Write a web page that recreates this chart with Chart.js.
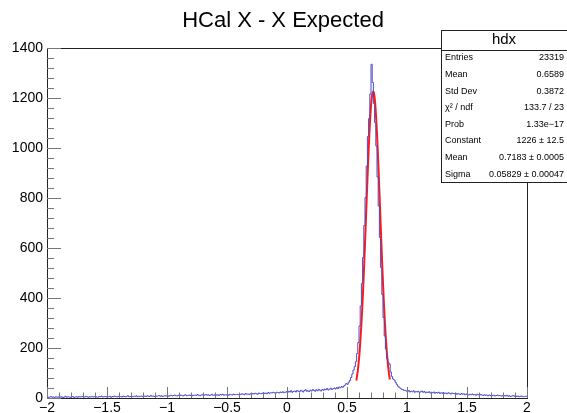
<!DOCTYPE html>
<html>
<head>
<meta charset="utf-8">
<script src="https://cdn.jsdelivr.net/npm/chart.js@4/dist/chart.umd.min.js"></script>
<style>
  html, body { margin: 0; padding: 0; background: #fff; }
  #wrap { width: 567px; height: 413px; }
</style>
</head>
<body>
<div id="wrap"><canvas id="hcalChart"></canvas></div>
<script>
// histogram hdx: 400 bins from -2 to 2
const xMin = -2;
const xMax = 2;
const binWidth = 0.01;
const binCounts = [
  3, 5, 2, 4, 6, 3, 4, 2, 5, 3,
  4, 6, 3, 5, 2, 4, 7, 3, 5, 4,
  3, 5, 6, 2, 4, 5, 3, 6, 4, 5,
  6, 3, 4, 7, 5, 3, 5, 4, 6, 4,
  5, 7, 4, 3, 6, 5, 8, 4, 5, 6,
  4, 6, 5, 7, 3, 6, 5, 8, 6, 4,
  7, 5, 6, 4, 8, 6, 5, 7, 9, 5,
  6, 8, 5, 7, 6, 9, 5, 7, 6, 8,
  7, 5, 8, 6, 9, 7, 6, 10, 7, 8,
  6, 9, 7, 8, 10, 7, 9, 6, 8, 9,
  8, 10, 7, 9, 11, 8, 10, 12, 9, 8,
  11, 9, 12, 10, 8, 11, 13, 9, 10, 12,
  10, 13, 9, 11, 12, 10, 14, 11, 9, 12,
  13, 10, 12, 14, 11, 13, 10, 12, 15, 11,
  12, 14, 11, 13, 10, 14, 12, 15, 11, 13,
  12, 14, 11, 15, 13, 12, 16, 13, 14, 15,
  13, 16, 14, 17, 15, 13, 18, 15, 16, 14,
  17, 15, 18, 16, 19, 17, 15, 20, 18, 17,
  19, 21, 18, 20, 17, 22, 19, 21, 20, 23,
  21, 19, 23, 22, 20, 24, 22, 25, 21, 23,
  25, 22, 27, 24, 29, 23, 26, 28, 24, 30,
  27, 25, 31, 28, 24, 30, 33, 27, 29, 26,
  31, 28, 34, 30, 27, 33, 29, 35, 31, 28,
  34, 31, 36, 33, 38, 32, 35, 39, 34, 37,
  40, 36, 42, 38, 44, 41, 46, 43, 48, 52,
  58, 55, 63, 70, 82, 96, 112, 126, 145, 178,
  222, 288, 368, 458, 562, 690, 802, 928, 1046, 1118,
  1216, 1335, 1262, 1178, 1102, 1008, 884, 768, 642, 522,
  414, 322, 248, 196, 158, 142, 136, 104, 86, 76,
  72, 63, 55, 47, 43, 39, 35, 34, 30, 31,
  28, 26, 30, 24, 27, 25, 29, 23, 26, 24,
  27, 22, 25, 28, 23, 26, 21, 24, 22, 25,
  20, 23, 21, 24, 19, 22, 20, 23, 18, 21,
  19, 22, 18, 20, 17, 21, 19, 16, 20, 18,
  17, 19, 15, 18, 16, 14, 18, 15, 17, 13,
  16, 14, 12, 15, 13, 16, 12, 14, 11, 15,
  13, 11, 14, 12, 10, 13, 11, 12, 9, 12,
  10, 12, 9, 11, 8, 10, 12, 9, 10, 8,
  9, 7, 10, 8, 11, 7, 9, 6, 8, 10,
  7, 9, 6, 8, 5, 7, 8, 5, 6, 7
];

// gaus fit curve
const fitX = [0.578, 0.59, 0.60, 0.61, 0.62, 0.63, 0.64, 0.65, 0.66, 0.67, 0.68, 0.69, 0.70, 0.71,
  0.72, 0.73, 0.74, 0.75, 0.76, 0.77, 0.78, 0.79, 0.80, 0.81, 0.82, 0.83, 0.84, 0.85, 0.857];
const fitY = [70, 109, 156, 218, 296, 389, 497, 617, 744, 870, 988, 1090, 1167, 1214,
  1226, 1202, 1144, 1057, 949, 828, 700, 576, 459, 356, 268, 196, 139, 96, 74];

const xTicks = [-2, -1.5, -1, -0.5, 0, 0.5, 1, 1.5, 2];
const yTicks = [0, 200, 400, 600, 800, 1000, 1200, 1400];

const statLabels = ["Entries", "Mean", "Std Dev", "\u03c7\u00b2 / ndf", "Prob", "Constant", "Mean", "Sigma"];
const statValues = ["23319", "0.6589", "0.3872", "133.7 / 23", "1.33e\u221217", "1226 \u00b1 12.5", "0.7183 \u00b1 0.0005", "0.05829 \u00b1 0.00047"];

const FONT = "'Liberation Sans', Arial, Helvetica, sans-serif";

// step outline: one point per low bin edge, plus closing point at xMax
const histPoints = binCounts.map((c, i) => ({ x: xMin + i * binWidth, y: c }));
histPoints.push({ x: xMax, y: binCounts[binCounts.length - 1] });
const fitPoints = fitX.map((x, i) => ({ x, y: fitY[i] }));

const minus = v => String(v).replace("-", "\u2212");

// ROOT style frame, inward ticks, title and stats box
const rootStyle = {
  id: "rootStyle",
  afterDatasetsDraw(chart) {
    const { ctx, chartArea: a, scales } = chart;
    const sx = scales.x, sy = scales.y;
    ctx.save();
    ctx.strokeStyle = "#222";
    ctx.lineWidth = 1;
    ctx.strokeRect(Math.round(a.left) + 0.5, Math.round(a.top) + 0.5,
      Math.round(a.right - a.left), Math.round(a.bottom - a.top));

    ctx.strokeStyle = "#777";
    ctx.beginPath();
    for (let i = 0; i < xTicks.length; i++) {
      const px = Math.round(sx.getPixelForValue(xTicks[i])) + 0.5;
      ctx.moveTo(px, a.bottom);
      ctx.lineTo(px, a.bottom - 11);
      if (i < xTicks.length - 1) {
        const step = (xTicks[i + 1] - xTicks[i]) / 5;
        for (let k = 1; k < 5; k++) {
          const mx = Math.round(sx.getPixelForValue(xTicks[i] + k * step)) + 0.5;
          ctx.moveTo(mx, a.bottom);
          ctx.lineTo(mx, a.bottom - 5.5);
        }
      }
    }
    for (let i = 0; i < yTicks.length; i++) {
      const py = Math.round(sy.getPixelForValue(yTicks[i])) + 0.5;
      ctx.moveTo(a.left, py);
      ctx.lineTo(a.left + 14, py);
      if (i < yTicks.length - 1) {
        const step = (yTicks[i + 1] - yTicks[i]) / 5;
        for (let k = 1; k < 5; k++) {
          const my = Math.round(sy.getPixelForValue(yTicks[i] + k * step)) + 0.5;
          ctx.moveTo(a.left, my);
          ctx.lineTo(a.left + 7, my);
        }
      }
    }
    ctx.stroke();
    ctx.restore();
  },
  afterDraw(chart) {
    const { ctx } = chart;
    ctx.save();
    // title
    ctx.fillStyle = "#000";
    ctx.font = "22px " + FONT;
    ctx.textAlign = "center";
    ctx.textBaseline = "middle";
    ctx.fillText("HCal X - X Expected", 283, 21);

    // stats box
    const bx = 441.5, by = 30.5, bw = 130, bh = 152;
    ctx.fillStyle = "#fff";
    ctx.fillRect(bx, by, bw, bh);
    ctx.strokeStyle = "#222";
    ctx.lineWidth = 1;
    ctx.strokeRect(bx, by, bw, bh);
    ctx.beginPath();
    ctx.moveTo(bx, 50.5);
    ctx.lineTo(bx + bw, 50.5);
    ctx.stroke();
    ctx.fillStyle = "#000";
    ctx.font = "15px " + FONT;
    ctx.fillText("hdx", 504, 40);
    ctx.font = "9px " + FONT;
    for (let i = 0; i < statLabels.length; i++) {
      const ty = 58 + i * 16.6;
      ctx.textAlign = "left";
      ctx.fillText(statLabels[i], 445, ty);
      ctx.textAlign = "right";
      ctx.fillText(statValues[i], 564, ty);
    }
    ctx.restore();
  }
};

const ctx = document.getElementById("hcalChart").getContext("2d");
new Chart(ctx, {
  type: "line",
  data: {
    datasets: [
      {
        label: "hdx",
        data: histPoints,
        stepped: "after",
        borderColor: "#4b4bc8",
        borderWidth: 1,
        pointRadius: 0,
        fill: false
      },
      {
        label: "gaus",
        data: fitPoints,
        borderColor: "#ff1a1a",
        borderWidth: 2,
        pointRadius: 0,
        tension: 0.3,
        fill: false
      }
    ]
  },
  options: {
    responsive: true,
    maintainAspectRatio: false,
    animation: false,
    events: [],
    layout: { padding: { top: 48, right: 40, left: 0, bottom: 0 } },
    plugins: {
      legend: { display: false },
      tooltip: { enabled: false },
      title: { display: false }
    },
    scales: {
      x: {
        type: "linear",
        min: xMin,
        max: xMax,
        afterBuildTicks: s => { s.ticks = xTicks.map(v => ({ value: v })); },
        afterFit: s => { s.height = 15; },
        grid: { display: false, drawTicks: false },
        border: { display: false },
        ticks: {
          padding: 2,
          maxRotation: 0,
          autoSkip: false,
          color: "#000",
          font: { family: FONT, size: 14 },
          callback: v => minus(v)
        }
      },
      y: {
        type: "linear",
        min: 0,
        max: 1400,
        afterBuildTicks: s => { s.ticks = yTicks.map(v => ({ value: v })); },
        afterFit: s => { s.width = 47; },
        grid: { display: false, drawTicks: false },
        border: { display: false },
        ticks: {
          padding: 4,
          autoSkip: false,
          color: "#000",
          font: { family: FONT, size: 14 },
          callback: v => String(v)
        }
      }
    }
  },
  plugins: [rootStyle]
});
</script>
</body>
</html>
